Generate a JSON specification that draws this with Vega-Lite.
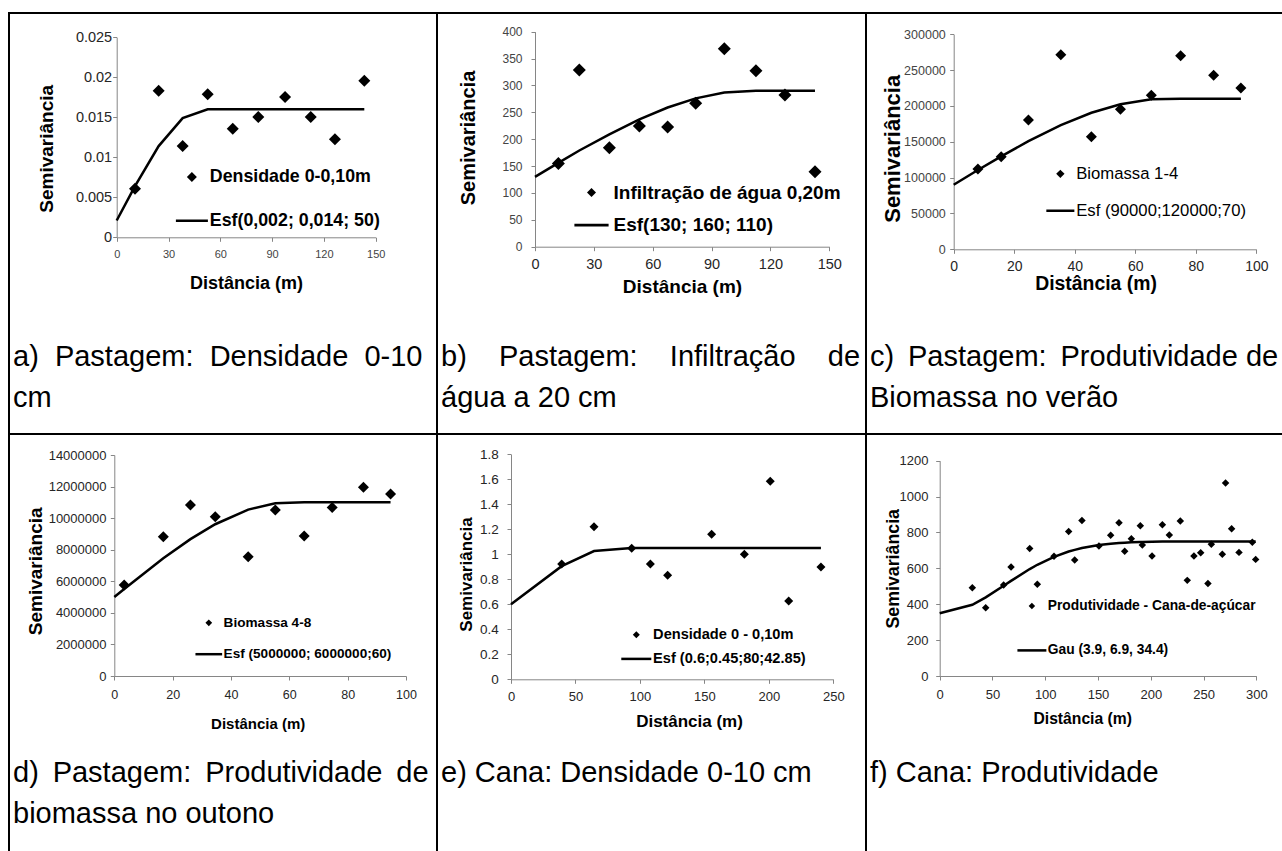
{
 "$schema": "https://vega.github.io/schema/vega-lite/v6.json",
 "padding": {"left": 8, "top": 12, "right": 0, "bottom": 0},
 "background": "white",
 "datasets": {
  "a_pts": [{"d":10.6,"g":0.00608},{"d":24.3,"g":0.01833},{"d":38.2,"g":0.01142},{"d":52.7,"g":0.01788},{"d":67.2,"g":0.01358},{"d":82.0,"g":0.01504},{"d":97.5,"g":0.01754},{"d":112.4,"g":0.01504},{"d":126.4,"g":0.01225},{"d":143.4,"g":0.01958}],
  "a_line": [{"d":0,"g":0.0021},{"d":10.6,"g":0.0064},{"d":24.3,"g":0.0114},{"d":38.2,"g":0.0149},{"d":52.7,"g":0.016},{"d":67.2,"g":0.016},{"d":82.0,"g":0.016},{"d":97.5,"g":0.016},{"d":112.4,"g":0.016},{"d":126.4,"g":0.016},{"d":143.4,"g":0.016}],
  "b_pts": [{"d":11.9,"g":155},{"d":22.6,"g":328.7},{"d":37.9,"g":184},{"d":53.2,"g":224.5},{"d":67.6,"g":222.6},{"d":81.9,"g":266.7},{"d":96.5,"g":368.4},{"d":112.6,"g":327.4},{"d":127.4,"g":282.2},{"d":142.7,"g":139.5}],
  "b_line": [{"d":0,"g":130},{"d":11.9,"g":156},{"d":22.6,"g":179},{"d":37.9,"g":209},{"d":53.2,"g":237},{"d":67.6,"g":259},{"d":81.9,"g":276},{"d":96.5,"g":287},{"d":112.6,"g":290},{"d":127.4,"g":290},{"d":142.7,"g":290}],
  "c_pts": [{"d":8.0,"g":112100},{"d":15.7,"g":129300},{"d":24.7,"g":180500},{"d":35.4,"g":271600},{"d":45.5,"g":157200},{"d":55.1,"g":195300},{"d":65.3,"g":214900},{"d":75.0,"g":270200},{"d":85.9,"g":242800},{"d":94.9,"g":225100}],
  "c_line": [{"d":0,"g":90000},{"d":8.0,"g":110600},{"d":15.7,"g":129700},{"d":24.7,"g":150900},{"d":35.4,"g":173300},{"d":45.5,"g":190500},{"d":55.1,"g":202400},{"d":65.3,"g":209200},{"d":75.0,"g":210000},{"d":85.9,"g":210000},{"d":94.9,"g":210000}],
  "d_pts": [{"d":3.4,"g":5765000},{"d":16.8,"g":8826000},{"d":26.1,"g":10830000},{"d":34.6,"g":10090000},{"d":45.9,"g":7560000},{"d":55.2,"g":10520000},{"d":65.1,"g":8870000},{"d":74.7,"g":10680000},{"d":85.4,"g":11950000},{"d":94.7,"g":11530000}],
  "d_line": [{"d":0,"g":5000000},{"d":3.4,"g":5514000},{"d":16.8,"g":7454000},{"d":26.1,"g":8668000},{"d":34.6,"g":9614000},{"d":45.9,"g":10540000},{"d":55.2,"g":10940000},{"d":65.1,"g":11000000},{"d":74.7,"g":11000000},{"d":85.4,"g":11000000},{"d":94.7,"g":11000000}],
  "e_pts": [{"d":39.3,"g":0.923},{"d":64.4,"g":1.221},{"d":93.6,"g":1.048},{"d":108.1,"g":0.923},{"d":121.5,"g":0.832},{"d":155.6,"g":1.16},{"d":181.0,"g":1.0},{"d":201.1,"g":1.584},{"d":215.4,"g":0.627},{"d":240.4,"g":0.899}],
  "e_line": [{"d":0,"g":0.6},{"d":39.3,"g":0.905},{"d":64.4,"g":1.026},{"d":93.6,"g":1.05},{"d":108.1,"g":1.05},{"d":121.5,"g":1.05},{"d":155.6,"g":1.05},{"d":181.0,"g":1.05},{"d":201.1,"g":1.05},{"d":215.4,"g":1.05},{"d":240.4,"g":1.05}],
  "f_pts": [{"d":30.9,"g":492},{"d":43.6,"g":381},{"d":60.6,"g":507},{"d":67.6,"g":607},{"d":85.3,"g":710},{"d":92.5,"g":511},{"d":108.3,"g":667},{"d":122.2,"g":806},{"d":127.9,"g":646},{"d":134.8,"g":867},{"d":150.9,"g":724},{"d":162.0,"g":784},{"d":169.9,"g":854},{"d":175.3,"g":695},{"d":181.6,"g":765},{"d":190.1,"g":838},{"d":192.0,"g":730},{"d":201.2,"g":669},{"d":211.0,"g":843},{"d":217.6,"g":786},{"d":228.0,"g":864},{"d":234.6,"g":533},{"d":240.9,"g":669},{"d":247.3,"g":687},{"d":254.2,"g":516},{"d":257.4,"g":734},{"d":267.8,"g":678},{"d":270.9,"g":1076},{"d":276.6,"g":821},{"d":283.6,"g":689},{"d":296.2,"g":745},{"d":299.4,"g":650}],
  "f_line": [{"d":0,"g":350},{"d":30.9,"g":397},{"d":43.6,"g":438},{"d":60.6,"g":503},{"d":67.6,"g":530},{"d":85.3,"g":596},{"d":92.5,"g":620},{"d":108.3,"g":664},{"d":122.2,"g":694},{"d":127.9,"g":703},{"d":134.8,"g":713},{"d":150.9,"g":730},{"d":162.0,"g":737},{"d":169.9,"g":741},{"d":175.3,"g":743},{"d":181.6,"g":745},{"d":190.1,"g":747},{"d":192.0,"g":747},{"d":201.2,"g":748},{"d":211.0,"g":749},{"d":217.6,"g":749},{"d":228.0,"g":750},{"d":234.6,"g":750},{"d":240.9,"g":750},{"d":247.3,"g":750},{"d":254.2,"g":750},{"d":257.4,"g":750},{"d":267.8,"g":750},{"d":270.9,"g":750},{"d":276.6,"g":750},{"d":283.6,"g":750},{"d":296.2,"g":750},{"d":299.4,"g":750}]
 },
 "columns": 3,
 "spacing": 0,
 "bounds": "flush",
 "resolve": {"scale": {"x": "independent", "y": "independent", "shape": "independent"}, "legend": {"shape": "independent"}, "axis": {"x": "independent", "y": "independent"}},
 "concat": [
    {
     "width": 428, "height": 421,
     "title": {"text": ["a)\u00a0 Pastagem:\u00a0 Densidade\u00a0 0-10", "cm"], "dy": 404},
     "encoding": {
      "x": {"field": "d", "type": "quantitative", "scale": {"domain": [0, 150], "range": [107.7, 366.7], "nice": false, "zero": false},
            "axis": {"values": [0, 30, 60, 90, 120, 150], "format": "~r", "offset": -196.7, "labelFontSize": 11, "labelPadding": 7, "labelColor": "#444", "title": "Distância (m)", "titleFontSize": 18, "titleX": 237, "titleY": 46}},
      "y": {"field": "g", "type": "quantitative", "scale": {"domain": [0, 0.025], "range": [224.3, 24.3], "nice": false, "zero": false},
            "axis": {"values": [0, 0.005, 0.01, 0.015, 0.02, 0.025], "format": "~r", "offset": -107.7, "labelFontSize": 14.5, "labelPadding": 1, "title": "Semivariância", "titleFontSize": 19, "titleX": -70.7, "titleY": 135.3}}
     },
     "layer": [
      {"data": {"name": "a_line"}, "mark": {"type": "line", "color": "black", "strokeWidth": 2.5}},
      {"data": {"name": "a_pts"}, "mark": {"type": "point", "filled": true, "color": "black", "opacity": 1, "size": 144, "strokeWidth": 0},
       "encoding": {"shape": {"datum": "Densidade 0-0,10m", "type": "nominal",
         "scale": {"domain": ["Densidade 0-0,10m", "Esf(0,002; 0,014; 50)"], "range": ["diamond", "M-3.2,-0.26H3.2V0.26H-3.2Z"]},
         "legend": {"title": null, "legendX": 174, "legendY": 155, "symbolSize": 100, "labelFontSize": 17.8, "labelFontWeight": "bold", "labelOffset": 9, "rowPadding": 24.8}}}}
     ]
    },
    {
     "width": 429, "height": 421,
     "title": {"text": ["b)\u00a0\u00a0\u00a0 Pastagem:\u00a0\u00a0\u00a0 Infiltração\u00a0\u00a0\u00a0 de", "água a 20 cm"], "dy": 404},
     "encoding": {
      "x": {"field": "d", "type": "quantitative", "scale": {"domain": [0, 150], "range": [98, 392.3], "nice": false, "zero": false},
            "axis": {"values": [0, 30, 60, 90, 120, 150], "format": "~r", "offset": -187.3, "labelFontSize": 14.5, "labelPadding": 6.3, "title": "Distância (m)", "titleFontSize": 19, "titleX": 245, "titleY": 39.3}},
      "y": {"field": "g", "type": "quantitative", "scale": {"domain": [0, 400], "range": [233.7, 18.7], "nice": false, "zero": false},
            "axis": {"values": [0, 50, 100, 150, 200, 250, 300, 350, 400], "format": "~r", "offset": -98, "labelFontSize": 12, "labelPadding": 9, "labelColor": "#444", "title": "Semivariância", "titleFontSize": 20, "titleX": -66.7, "titleY": 124.5}}
     },
     "layer": [
      {"data": {"name": "b_line"}, "mark": {"type": "line", "color": "black", "strokeWidth": 2.5}},
      {"data": {"name": "b_pts"}, "mark": {"type": "point", "filled": true, "color": "black", "opacity": 1, "size": 169, "strokeWidth": 0},
       "encoding": {"shape": {"datum": "Infiltração de água 0,20m", "type": "nominal",
         "scale": {"domain": ["Infiltração de água 0,20m", "Esf(130; 160; 110)"], "range": ["diamond", "M-3.8,-0.3H3.8V0.3H-3.8Z"]},
         "legend": {"title": null, "legendX": 145, "legendY": 170, "symbolSize": 81, "labelFontSize": 19, "labelFontWeight": "bold", "labelOffset": 12.5, "rowPadding": 12.7}}}}
     ]
    },
    {
     "width": 417, "height": 421,
     "title": {"text": ["c)\u2009 Pastagem:\u2009 Produtividade de", "Biomassa no verão"], "dy": 404},
     "encoding": {
      "x": {"field": "d", "type": "quantitative", "scale": {"domain": [0, 100], "range": [87.7, 390.3], "nice": false, "zero": false},
            "axis": {"values": [0, 20, 40, 60, 80, 100], "format": "~r", "offset": -184.7, "labelFontSize": 14, "labelPadding": 5.7, "title": "Distância (m)", "titleFontSize": 19.4, "titleX": 229.5, "titleY": 34}},
      "y": {"field": "g", "type": "quantitative", "scale": {"domain": [0, 300000], "range": [236.3, 21.3], "nice": false, "zero": false},
            "axis": {"values": [0, 50000, 100000, 150000, 200000, 250000, 300000], "format": "~r", "offset": -87.7, "labelFontSize": 12.5, "labelPadding": 4.4, "labelColor": "#444", "title": "Semivariância", "titleFontSize": 22, "titleX": -61, "titleY": 135.3}}
     },
     "layer": [
      {"data": {"name": "c_line"}, "mark": {"type": "line", "color": "black", "strokeWidth": 2.5}},
      {"data": {"name": "c_pts"}, "mark": {"type": "point", "filled": true, "color": "black", "opacity": 1, "size": 121, "strokeWidth": 0},
       "encoding": {"shape": {"datum": "Biomassa 1-4", "type": "nominal",
         "scale": {"domain": ["Biomassa 1-4", "Esf (90000;120000;70)"], "range": ["diamond", "M-3.35,-0.3H3.35V0.3H-3.35Z"]},
         "legend": {"title": null, "legendX": 186, "legendY": 152.5, "symbolSize": 70, "labelFontSize": 16.7, "labelFontWeight": "normal", "labelOffset": 7.5, "rowPadding": 18.9}}}}
     ]
    },
    {
     "width": 428, "height": 440,
     "title": {"text": ["d)\u2009 Pastagem:\u2009 Produtividade\u2009 de", "biomassa no outono"], "dy": 399},
     "encoding": {
      "x": {"field": "d", "type": "quantitative", "scale": {"domain": [0, 100], "range": [105.3, 397], "nice": false, "zero": false},
            "axis": {"values": [0, 20, 40, 60, 80, 100], "format": "~r", "offset": -198, "labelFontSize": 12.5, "labelPadding": 8, "title": "Distância (m)", "titleFontSize": 15, "titleX": 248.7, "titleY": 47.3}},
      "y": {"field": "g", "type": "quantitative", "scale": {"domain": [0, 14000000], "range": [242, 21], "nice": false, "zero": false},
            "axis": {"values": [0, 2000000, 4000000, 6000000, 8000000, 10000000, 12000000, 14000000], "format": "~r", "offset": -105.3, "labelFontSize": 13, "labelPadding": 4.3, "title": "Semivariância", "titleFontSize": 19, "titleX": -78.6, "titleY": 136.8}}
     },
     "layer": [
      {"data": {"name": "d_line"}, "mark": {"type": "line", "color": "black", "strokeWidth": 2.5}},
      {"data": {"name": "d_pts"}, "mark": {"type": "point", "filled": true, "color": "black", "opacity": 1, "size": 121, "strokeWidth": 0},
       "encoding": {"shape": {"datum": "Biomassa 4-8", "type": "nominal",
         "scale": {"domain": ["Biomassa 4-8", "Esf (5000000; 6000000;60)"], "range": ["diamond", "M-3.98,-0.37H3.98V0.37H-3.98Z"]},
         "legend": {"title": null, "legendX": 193, "legendY": 182, "symbolSize": 45, "labelFontSize": 13.6, "labelFontWeight": "bold", "labelOffset": 8, "rowPadding": 16.4}}}}
     ]
    },
    {
     "width": 429, "height": 440,
     "title": {"text": "e) Cana: Densidade 0-10 cm", "dy": 358},
     "encoding": {
      "x": {"field": "d", "type": "quantitative", "scale": {"domain": [0, 250], "range": [74, 396.3], "nice": false, "zero": false},
            "axis": {"values": [0, 50, 100, 150, 200, 250], "format": "~r", "offset": -194.7, "labelFontSize": 13, "labelPadding": 6.7, "title": "Distância (m)", "titleFontSize": 17, "titleX": 252, "titleY": 42.4}},
      "y": {"field": "g", "type": "quantitative", "scale": {"domain": [0, 1.8], "range": [245.3, 20.3], "nice": false, "zero": false},
            "axis": {"values": [0, 0.2, 0.4, 0.6, 0.8, 1, 1.2, 1.4, 1.6, 1.8], "format": "~r", "offset": -74, "labelFontSize": 13.5, "labelPadding": 8.7, "title": "Semivariância", "titleFontSize": 17, "titleX": -44.3, "titleY": 140}}
     },
     "layer": [
      {"data": {"name": "e_line"}, "mark": {"type": "line", "color": "black", "strokeWidth": 2.5}},
      {"data": {"name": "e_pts"}, "mark": {"type": "point", "filled": true, "color": "black", "opacity": 1, "size": 81, "strokeWidth": 0},
       "encoding": {"shape": {"datum": "Densidade 0 - 0,10m", "type": "nominal",
         "scale": {"domain": ["Densidade 0 - 0,10m", "Esf (0.6;0.45;80;42.85)"], "range": ["diamond", "M-4.29,-0.36H4.29V0.36H-4.29Z"]},
         "legend": {"title": null, "legendX": 192, "legendY": 193.5, "symbolSize": 49, "labelFontSize": 14.6, "labelFontWeight": "bold", "labelOffset": 9.5, "rowPadding": 9.1}}}}
     ]
    },
    {
     "width": 417, "height": 440,
     "title": {"text": "f) Cana: Produtividade", "dy": 358},
     "encoding": {
      "x": {"field": "d", "type": "quantitative", "scale": {"domain": [0, 300], "range": [73.7, 390.3], "nice": false, "zero": false},
            "axis": {"values": [0, 50, 100, 150, 200, 250, 300], "format": "~r", "offset": -198, "labelFontSize": 13, "labelPadding": 8, "title": "Distância (m)", "titleFontSize": 15.7, "titleX": 216.2, "titleY": 42.3}},
      "y": {"field": "g", "type": "quantitative", "scale": {"domain": [0, 1200], "range": [242, 26.7], "nice": false, "zero": false},
            "axis": {"values": [0, 200, 400, 600, 800, 1000, 1200], "format": "~r", "offset": -73.7, "labelFontSize": 13, "labelPadding": 7.7, "title": "Semivariância", "titleFontSize": 17.8, "titleX": -46.7, "titleY": 134.3}}
     },
     "layer": [
      {"data": {"name": "f_line"}, "mark": {"type": "line", "color": "black", "strokeWidth": 2.5}},
      {"data": {"name": "f_pts"}, "mark": {"type": "point", "filled": true, "color": "black", "opacity": 1, "size": 56, "strokeWidth": 0},
       "encoding": {"shape": {"datum": "Produtividade - Cana-de-açúcar", "type": "nominal",
         "scale": {"domain": ["Produtividade - Cana-de-açúcar", "Gau (3.9, 6.9, 34.4)"], "range": ["diamond", "M-4.47,-0.39H4.47V0.39H-4.47Z"]},
         "legend": {"title": null, "legendX": 159, "legendY": 165, "symbolSize": 42, "labelFontSize": 13.8, "labelFontWeight": "bold", "labelOffset": 9, "rowPadding": 29.5}}}}
     ]
    }
 ],
 "config": {
  "view": {"stroke": "black", "strokeWidth": 2},
  "axis": {"grid": false, "domainColor": "#868686", "tickColor": "#868686", "tickSize": 4, "labelColor": "#262626", "titleColor": "black", "labelFont": "Liberation Sans", "titleFont": "Liberation Sans", "titleFontWeight": "bold", "labelOverlap": false, "labelFlush": false, "titleBaseline": "middle", "titleAlign": "center"},
  "legend": {"orient": "none", "padding": 0, "labelFont": "Liberation Sans", "labelColor": "black", "labelLimit": 400, "symbolOffset": 0, "symbolStrokeWidth": 0, "symbolFillColor": "black", "symbolOpacity": 1, "titlePadding": 0},
  "title": {"font": "Liberation Sans", "fontSize": 29, "fontWeight": "normal", "color": "black", "anchor": "start", "frame": "group", "orient": "top", "offset": 0, "baseline": "alphabetic", "lineHeight": 41, "dx": 4}
 }
}
